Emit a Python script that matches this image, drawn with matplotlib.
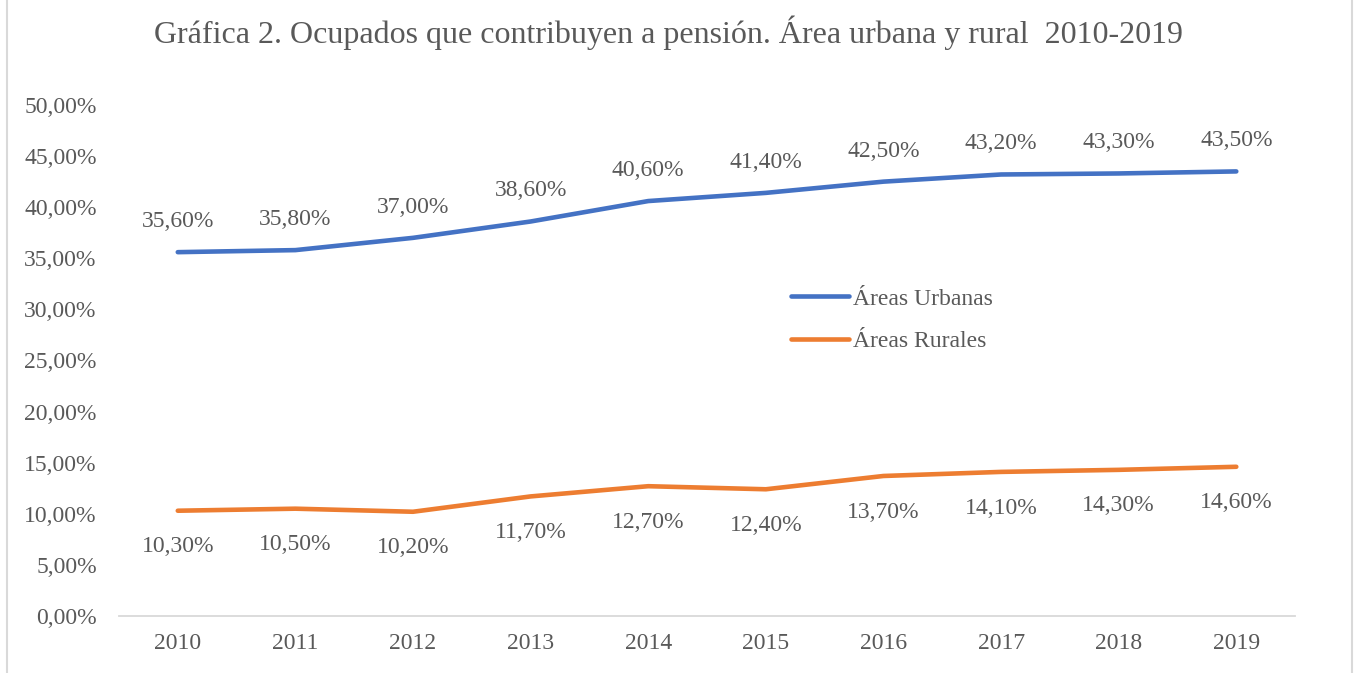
# Ocupados que contribuyen a pensión, áreas urbana y rural 2010-2019
import matplotlib.pyplot as plt
from matplotlib.patches import Rectangle
from matplotlib.ticker import FuncFormatter

anios = ["2010", "2011", "2012", "2013", "2014", "2015", "2016", "2017", "2018", "2019"]
urbanas = [35.6, 35.8, 37.0, 38.6, 40.6, 41.4, 42.5, 43.2, 43.3, 43.5]
rurales = [10.3, 10.5, 10.2, 11.7, 12.7, 12.4, 13.7, 14.1, 14.3, 14.6]

GRIS = "#595959"
AZUL = "#4472C4"
NARANJA = "#ED7D31"


def pct(v, dec=2):
    return f"{v:.{dec}f}%".replace(".", ",")


def main():
    plt.rcParams["font.family"] = ["Liberation Serif", "DejaVu Serif"]

    fig = plt.figure(figsize=(13.55, 6.73), dpi=100)
    ax = fig.add_axes([0.0878, 0.0847, 0.868, 0.7593])

    x = list(range(len(anios)))
    ax.plot(x, urbanas, color=AZUL, lw=3.3, solid_capstyle="round", label="Áreas Urbanas")
    ax.plot(x, rurales, color=NARANJA, lw=3.3, solid_capstyle="round", label="Áreas Rurales")

    # etiquetas de datos
    for i, v in enumerate(urbanas):
        ax.annotate(pct(v), (i, v), xytext=(0, 22), textcoords="offset points",
                    ha="center", va="center", fontsize=17, color=GRIS)
    for i, v in enumerate(rurales):
        ax.annotate(pct(v), (i, v), xytext=(0, -26), textcoords="offset points",
                    ha="center", va="center", fontsize=17, color=GRIS)

    ax.set_xlim(-0.5, len(anios) - 0.5)
    ax.set_ylim(0, 50)
    ax.set_yticks(range(0, 51, 5))
    ax.yaxis.set_major_formatter(FuncFormatter(lambda v, p: pct(v)))
    ax.set_xticks(x)
    ax.set_xticklabels(anios)
    ax.tick_params(axis="y", length=0, pad=16, labelsize=17, labelcolor=GRIS)
    ax.tick_params(axis="x", length=0, pad=12, labelsize=17, labelcolor=GRIS)

    for lado in ["top", "right", "left"]:
        ax.spines[lado].set_visible(False)
    ax.spines["bottom"].set_color("#D9D9D9")
    ax.spines["bottom"].set_linewidth(1.3)

    fig.legend(loc="upper left", bbox_to_anchor=(0.584, 0.572), frameon=False,
               fontsize=17, labelcolor=GRIS, handlelength=2.45, handletextpad=0.17,
               labelspacing=0.9, borderaxespad=0, borderpad=0)

    fig.text(0.493, 0.951, "Gráfica 2. Ocupados que contribuyen a pensión. Área urbana y rural  2010-2019",
             ha="center", va="center", fontsize=23, color=GRIS)

    # marco del gráfico
    fig.patches.append(Rectangle((0.005, -0.01), 0.993, 1.02, transform=fig.transFigure,
                                 fill=False, edgecolor="#D9D9D9", lw=1.5))

    fig.savefig("out.png", dpi=100)
    plt.close(fig)


if __name__ == "__main__":
    main()
